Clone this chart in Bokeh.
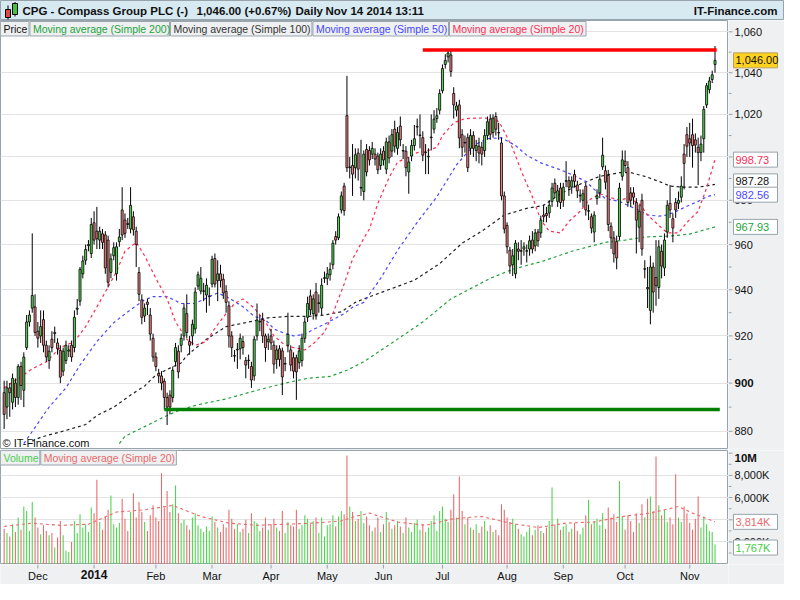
import math
from bokeh.plotting import figure
from bokeh.models import Range1d, FixedTicker, ColumnDataSource
from bokeh.layouts import column, row
from bokeh.embed import file_html
from bokeh.resources import INLINE
from bokeh.core.properties import value

FONT = "Liberation Sans"

# ---------------- data ----------------
month_labels = ["Dec", "2014", "Feb", "Mar", "Apr", "May", "Jun", "Jul", "Aug", "Sep", "Oct", "Nov"]
month_start_idx = [12, 32, 54, 74, 95, 115, 135, 156, 179, 199, 221, 244]

opens = [896, 890, 898, 892, 900, 894, 907, 897, 915, 926,
         932, 932.5, 922, 920, 927, 916, 909.5, 918.6, 921, 917,
         913.8, 905, 909.5, 913.5, 916, 915, 931.5, 935, 947, 953,
         959.5, 956, 969.8, 966, 962, 964.8, 964.3, 962, 947.6, 955,
         947, 961.3, 975.6, 971, 969.5, 967, 972.5, 966, 947.6, 935.6,
         928.6, 934.6, 929, 919, 911, 904, 903, 900.8, 894, 895,
         894, 909, 913.5, 916, 920, 929.6, 917.6, 920, 923, 941.6,
         939.4, 939.3, 937.7, 937, 942.5, 953.8, 944, 947, 944.6, 939.3,
         933, 920, 911.6, 914, 914.5, 917.6, 909.5, 909.5, 907, 903,
         920, 926, 927, 920, 917.5, 920, 916, 910, 914.5, 913.6,
         908, 916, 914, 910.7, 910.7, 908.6, 909.5, 919, 928, 937.3,
         929.6, 939, 934, 932, 945, 945, 946.6, 951, 963.6, 963,
         975.6, 986.5, 1019.4, 995, 996, 995, 1001.8, 985.6, 984, 1003.5,
         1003, 1001.3, 1001.3, 1000.4, 996, 1002.7, 994.3, 1007, 1002.7, 1013,
         1004, 1014.5, 1002.7, 1002.7, 993, 1000.4, 1005.3, 1014, 1010, 1009,
         1002, 1000, 1009, 1013, 1018, 1022, 1031.3, 1044, 1047.7, 1048.6,
         1030, 1022, 1024.5, 1010.4, 1006.5, 1009, 1004, 1010, 1003, 1005,
         1004.5, 1003, 1010, 1017.8, 1011.4, 1019, 1011.4, 1006.5, 982, 968.6,
         957.5, 951, 947, 958, 957, 958, 957, 958, 962, 959.4,
         965.6, 965.2, 973.3, 974, 974.2, 979.5, 987.8, 979.5, 985.6, 980,
         988.7, 989, 986, 991.8, 987, 982, 980, 986.5, 975, 972.5,
         965.6, 980.8, 983.4, 995.4, 993.6, 991.4, 968.2, 963, 961.3, 963.6,
         991, 998, 995, 983.4, 983.4, 979, 967.8, 980, 949, 941,
         931, 950, 945.4, 941, 957, 949.6, 965.6, 978.6, 971.6, 979,
         978.6, 981.4, 1001.3, 1010.4, 1008.5, 1010.4, 1008, 1004.5, 1002, 1008.5,
         1024.5, 1031.8, 1036.7, 1044]
highs = [901, 901, 900, 904, 902, 908, 909, 913, 929, 931,
         965, 938, 926, 931, 931, 918, 916, 922, 924, 919,
         916, 915, 918, 916, 918, 931, 936, 950, 955, 960,
         962, 972, 975, 977, 968, 967, 966, 964, 956, 961,
         961, 967, 986, 974, 972, 986, 975, 968, 950, 938,
         934, 936, 932, 921, 913, 906, 905, 902, 896, 897,
         907, 917, 916, 921, 934, 938, 920, 927, 941, 948,
         950, 943, 945, 941, 955, 956, 953, 951, 947, 942,
         935, 922, 914, 917, 921, 920, 911, 912, 909, 920,
         934, 929, 930, 921, 921, 923, 918, 916, 916, 915,
         911, 930, 916, 913, 912, 916, 921, 928, 937, 940,
         938, 943, 938, 945, 948, 950, 952, 962, 966, 974,
         984, 988, 1038.5, 1000, 1006, 1004, 1004, 1008, 1003, 1006,
         1005, 1007, 1004, 1002, 1004, 1005, 1009, 1010, 1013, 1017,
         1014, 1019, 1006, 1005, 1000, 1008, 1015, 1018, 1020, 1012,
         1006, 1004, 1020, 1022, 1023, 1032, 1044, 1049, 1051.4, 1051,
         1033, 1026, 1027, 1013, 1010, 1011, 1013, 1012, 1008, 1009,
         1007, 1013, 1019, 1020, 1020, 1021, 1016, 1009, 984, 970,
         959, 958, 962, 961, 962, 961, 960, 964, 966, 967,
         967, 973, 978, 977, 980, 988, 990, 987, 988, 988,
         998, 991, 991, 994, 989, 985, 985, 988, 978, 974,
         975, 985, 992, 1009, 996, 994, 970, 966, 964, 988,
         1003, 1003, 998, 986, 986, 981, 978, 983, 953, 950,
         955, 952, 962, 962, 960, 965, 980, 987, 974, 981,
         984, 991, 1006, 1014, 1016, 1018, 1011, 1009, 1010, 1024,
         1035, 1038, 1041, 1053]
lows = [881, 885, 886, 889, 890, 891, 893, 890, 914, 924,
        930, 920, 915, 917, 913, 909, 906, 913, 917, 912,
        900, 903, 908, 911, 909, 913, 929, 933, 945, 951,
        957, 954, 960, 958, 958, 958, 947, 941, 945, 953,
        944, 959, 962, 963, 967, 965, 964, 950, 935, 925,
        926, 929, 918, 909, 905, 900, 897, 889, 882.6, 887,
        892, 907, 902, 913, 918, 919, 912, 916, 921, 940,
        938, 935, 930, 933, 941, 941, 935, 941, 936, 930,
        915, 911, 909, 906, 910, 912, 902, 906, 898, 901,
        918, 922, 917, 909, 914, 914, 904, 906, 907, 895,
        905, 913, 905, 902, 893, 906, 907, 917, 926, 929,
        927, 927, 930, 929, 943, 942, 944, 949, 960, 962,
        974, 973, 993, 990, 982, 990, 989, 982, 980, 991,
        996, 999, 996, 992, 994, 996, 992, 997, 1000, 1002,
        1001, 1005, 999, 991, 983, 998, 1003, 1010, 1004, 998,
        992, 992, 1003, 1011, 1016, 1020, 1030, 1042, 1045, 1038,
        1018, 1019, 1004, 1000, 1002, 993, 1001, 1000, 998, 997,
        996, 1000, 1008, 1008, 1009, 1010, 1008, 980, 965, 956,
        947, 946, 945, 953, 951, 955, 952, 955, 956, 957,
        959, 963, 970, 970, 972, 977, 981, 977, 976, 977,
        986, 982, 983, 986, 981, 979, 977, 973, 971, 965,
        961, 978, 981, 994, 985, 966, 958, 952, 949, 962,
        989, 993, 977, 977, 978, 956, 961, 955, 945, 932,
        925, 930, 933, 936, 945, 946, 963, 972, 961, 972,
        976, 979, 985, 1000, 1000, 995, 1002, 987, 998, 1002,
        1023, 1030, 1035, 1040]
closes = [887, 898, 896, 902, 894, 907, 899, 911, 926, 929,
          937.5, 921.5, 919, 924, 916, 911, 913.5, 915, 921.5, 914.5,
          902.5, 913.5, 916, 914, 911, 928, 932, 949, 952.7, 957.8,
          960, 969, 962, 962.6, 966, 961, 949.6, 943.3, 953.6, 958.6,
          959, 963.4, 964.3, 965, 969, 977.7, 966.6, 960, 938, 928,
          932, 933.6, 920.8, 911, 907, 903, 900, 894, 890, 890,
          905.4, 915, 904.7, 919, 932, 921.5, 916, 925, 939, 946.6,
          945, 939.5, 942, 937.3, 953.4, 942.5, 947, 944, 938.6, 934.5,
          920, 915, 911.4, 914.3, 919, 915, 907.6, 909.7, 901.3, 918.6,
          926.8, 926.3, 920, 915, 918.6, 917, 908, 914, 910, 902.6,
          908.3, 920.7, 907.6, 905, 904.7, 913.6, 919, 926, 934, 931.3,
          936, 929, 934.3, 942, 945.3, 947, 949, 960.6, 962, 972.5,
          982, 975.3, 995, 995.3, 992, 1001, 994.3, 985.9, 1001.3, 993,
          998.6, 1004, 999, 994, 1001.3, 998.6, 1007, 999.5, 1010.4, 1005,
          1011.4, 1008, 1003, 995, 997.6, 1005.3, 1008.5, 1014.3, 1010.3, 1000.8,
          1002.3, 1000.3, 1009.3, 1017.8, 1019.4, 1030, 1042, 1046, 1049.6, 1040.6,
          1024.5, 1024, 1008.9, 1004.5, 1006.8, 995, 1010, 1004, 1005.3, 1001.8,
          1001.3, 1010, 1016.5, 1010.6, 1018.2, 1013, 1011.2, 982, 967, 959,
          950.4, 955, 960.6, 957, 957.3, 959, 957.3, 961.7, 958, 965.2,
          961.7, 971, 972.5, 973, 977.7, 985.6, 983.4, 984.3, 979, 986,
          989, 986, 989, 988.7, 984.3, 982.3, 983, 975.6, 975.3, 967.4,
          973.3, 982, 989.6, 1000.8, 988.3, 969, 963, 955.8, 954, 985.6,
          998.6, 996, 979, 980, 981.4, 971, 975, 958, 949.3, 940.4,
          950, 939, 941.8, 959, 950.4, 962, 977.7, 975.6, 967.4, 975.6,
          980, 986.5, 997, 1005, 1006.5, 1005.3, 1005.5, 1002, 1006, 1022.4,
          1033.7, 1036, 1039, 1046]
volumes_k = [3200, 2800, 2500, 3600, 2900, 4200, 3100, 5200, 4800, 3000,
             5600, 4200, 3300, 2700, 3500, 3000, 2600, 2800, 1500, 2400,
             3900, 2600, 1200, 1100, 2000, 3900, 2800, 4500, 3300, 3600,
             2900, 5100, 4600, 7600, 3800, 3100, 4300, 4900, 6200, 3600,
             3300, 3700, 5900, 4100, 3000, 4700, 6400, 4200, 5600, 4700,
             3800, 3000, 4400, 5300, 4200, 3900, 8200, 5100, 6600, 4700,
             5400, 7100, 4600, 3700, 4000, 3500, 3100, 4200, 4600, 3500,
             3200, 2900, 3400, 3000, 4300, 3800, 3300, 2900, 3600, 3300,
             4900, 4100, 3200, 3600, 2900, 3200, 4000, 2800, 4600, 3900,
             3700, 3000, 3300, 4200, 3100, 3600, 4100, 3300, 3000, 4800,
             2800, 3800, 3500, 3400, 4900, 3200, 3500, 4400, 4100, 3600,
             3900, 4200, 2800, 4200, 2500, 3500, 3600, 4400, 3400, 4300,
             4800, 4500, 9800, 5200, 4700, 3900, 4100, 4800, 3700, 4300,
             3500, 3000, 3300, 4200, 2900, 3600, 4700, 3800, 3200, 3500,
             3900, 3400, 2800, 4200, 3300, 2900, 3700, 4000, 3100, 3600,
             2900, 3300, 3900, 4400, 3000, 4800, 5200, 4100, 3800, 4900,
             6300, 4200, 7900, 4800, 3600, 4200, 3300, 3100, 3600, 2800,
             3400, 3900, 3000, 3500, 2900, 3100, 2600, 5400, 4900, 4200,
             3800, 4100, 3600, 3200, 2700, 2500, 2900, 3300, 2600, 3100,
             3500, 3000, 2800, 3300, 3900, 6900, 3600, 4100, 3100, 3400,
             3600, 2900, 3200, 3700, 3000, 2700, 3300, 4400, 5800, 3600,
             3900, 4100, 3500, 4600, 3200, 5100, 4200, 4500, 3800, 7500,
             4300, 3100, 4400, 3900, 2900, 4600, 3700, 5400, 4200, 5900,
             6100, 4800, 9700, 5300, 4400, 4900, 3800, 4200, 3600, 8100,
             4200, 3800, 5200, 4600, 3700, 3100, 4100, 6100, 3300, 4300,
             3600, 3000, 2900, 1767]

ma20_idx = [0, 10, 15, 20, 25, 29, 36, 40, 43, 47, 50, 54, 58, 61, 65, 68, 72, 75, 79, 82,
            85, 89, 93, 96, 100, 103, 107, 110, 114, 117, 121, 124, 128, 130, 133, 137, 140, 144, 147, 151,
            154, 156, 160, 164, 170, 175, 177, 181, 184, 188, 191, 194, 198, 201, 205, 208, 212, 215, 219, 222,
            226, 229, 233, 236, 240, 243, 247, 250, 253]
ma20_val = [898, 906, 909, 915, 917.6, 924, 939, 948, 957, 961, 955, 945, 936, 926, 918.6, 916, 917.6, 923.3, 929.6, 934,
            936, 932, 926, 920, 916, 915, 914, 916.6, 921.6, 929.6, 942.5, 953.5, 962.8, 967, 978.6, 990.4, 997.6, 1000, 1002, 1003,
            1004.5, 1010, 1016, 1018, 1018.3, 1018, 1014.5, 1004, 993.6, 981.6, 971, 966, 965.2, 970.4, 975, 980, 983, 981.6, 980, 981,
            978.6, 973.3, 968.6, 965.2, 965.2, 970, 975, 985.6, 998.73]
ma50_idx = [7, 16, 22, 27, 33, 39, 45, 50, 53, 58, 63, 68, 73, 76, 80, 85, 89, 93, 96, 100,
            103, 107, 110, 114, 117, 121, 124, 128, 134, 140, 147, 154, 161, 167, 172, 177, 182, 186, 191, 198,
            202, 207, 211, 214, 219, 222, 226, 229, 233, 236, 240, 243, 247, 250, 253]
ma50_val = [875, 890, 898, 907.6, 917.6, 925.7, 931.3, 935.6, 937, 937, 934, 934, 937, 938.6, 936.4, 932.6, 928.4, 927, 923, 921,
            920, 920.7, 922.8, 925, 927, 929.6, 932.4, 934.5, 945, 957.4, 970, 981.6, 996.3, 1005.3, 1008.5, 1009, 1005.3, 1000.8, 997.2, 994,
            991.8, 988.7, 983.8, 980.8, 979.5, 977.7, 975.4, 973.3, 972.8, 973.3, 975.4, 977.3, 979.5, 981.6, 982.56]
ma100_idx = [10, 13, 22, 29, 33, 39, 45, 50, 54, 59, 63, 65, 72, 79, 86, 94, 101, 108, 114, 120,
             125, 128, 146, 155, 163, 170, 178, 186, 192, 198, 205, 212, 219, 223, 228, 233, 237, 242, 247, 253]
ma100_val = [876, 877.6, 880.4, 882.8, 886.5, 890, 895, 898.8, 903.4, 906.3, 908.5, 911.6, 918.6, 924, 925.7, 927.8, 928.4, 928.4, 929, 930.4,
             934.5, 936, 944.2, 951.5, 960.6, 966, 973.3, 976.3, 977.7, 983, 987.4, 991, 992.7, 992.7, 991, 988.7, 986.5, 986, 986, 987.28]
ma200_idx = [41, 43, 51, 57, 63, 69, 79, 90, 100, 108, 116, 122, 128, 138, 149, 159, 173, 181, 192, 202,
             214, 221, 228, 237, 244, 253]
ma200_val = [875, 878, 882.5, 886, 889, 891, 893.4, 897, 900, 902, 902.8, 905.4, 909, 917, 926, 936, 945, 949, 952.7, 957,
             961, 962, 963.4, 963.8, 964.7, 967.93]
vol_ma20_idx = [0, 10, 20, 30, 40, 50, 60, 70, 80, 90, 100, 110, 120, 125, 130, 140, 150, 160, 170, 180,
                190, 200, 210, 220, 230, 240, 245, 253]
vol_ma20_k = [3400, 3700, 3500, 3600, 4700, 4900, 5300, 4300, 3700, 3500, 3600, 3700, 3900, 4300, 4600, 3800, 3500, 4100, 4300, 3700,
              3300, 3700, 3800, 4300, 4600, 5200, 4600, 3814]

price_ticks = [880, 900, 920, 940, 960, 980, 1000, 1020, 1040, 1060]
price_bold_tick = 900
price_minor = [870, 890, 910, 930, 950, 970, 990, 1010, 1030, 1050]
vol_ticks_k = [2000, 4000, 6000, 8000]
vol_top_tick_k = 10000
vol_minor_k = [1000, 3000, 5000, 7000, 9000]

resistance_level, resistance_from, resistance_to = 1051, 149, 253.6
support_level, support_from, support_to = 889, 57, 254.7

last_price = 1046.00
last_change_pct = 0.67
ma_last = {"ma20": 998.73, "ma100": 987.28, "ma50": 982.56, "ma200": 967.93}
last_vol_k = 1767
last_vol_ma_k = 3814

# ---------------- geometry / style ----------------
AXW = 56
FW = 784 - AXW
PH = 428
VH = 114
XH = 20
X_LO, X_HI = -1.3, 257.8
P_TOP, P_BOT = 1065.6, 873.0
V_TOP, V_BOT = 10245, -30
LNR = math.log(P_TOP) - math.log(P_BOT)

UP, DOWN = "#55d655", "#f08080"
VUP, VDOWN = "#4fd34f", "#e86a6a"
GRID = "#e3e3e3"
EDGE = "#98a4ac"
PANEL = "#eef0f2"
C20, C50, C100, C200 = "#ff2d55", "#4a4aff", "#222222", "#22a03a"


def fx(px):
    return X_LO + px * (X_HI - X_LO) / FW


def fp(py):
    return math.exp(math.log(P_TOP) - py / PH * LNR)


def pyp(price):
    return PH * (math.log(P_TOP) - math.log(price)) / LNR


def fv(py):
    return V_TOP - py / VH * (V_TOP - V_BOT)


def pyv(v):
    return (V_TOP - v) / (V_TOP - V_BOT) * VH


def rx(x):  # reference x -> my frame px
    return (x - 1) * FW / 741


def rpy(y):
    return (y - 20) * PH / 442


def rvy(y):
    return (y - 465) * VH / 113


def bare(fig, bg):
    fig.grid.visible = False
    fig.background_fill_color = bg
    fig.border_fill_color = bg
    fig.outline_line_color = None
    return fig


xr = Range1d(X_LO, X_HI)

# ---------------- header ----------------
hdr = figure(frame_width=784, frame_height=20, x_range=Range1d(0, 784), y_range=Range1d(20, 0),
             toolbar_location=None, output_backend="svg", min_border=0,
             x_axis_location=None, y_axis_location=None)
bare(hdr, "#d7e9f1")
hdr.outline_line_color = EDGE
hdr.segment(x0=[7.5, 14.5], y0=[5, 1.5], x1=[7.5, 14.5], y1=[19, 16], line_color="black", line_width=1)
hdr.quad(left=[5, 12], right=[10, 17], top=[9, 3], bottom=[17, 14],
         fill_color=["#e04848", "#3fc53f"], line_color="black", line_width=1)


def htext(x, text, align="left"):
    hdr.text(x=[x], y=[10.5], text=[text], text_font=value(FONT), text_font_size="11.5px",
             text_font_style="bold", text_align=align, text_baseline="middle", text_color="#111111")


htext(22, "CPG - Compass Group PLC (-)")
htext(196, f"{last_price:,.2f} (+{last_change_pct:.2f}%)")
htext(295, "Daily")
htext(325, "Nov 14 2014 13:11")
htext(777, "IT-Finance.com", align="right")

# ---------------- price panel ----------------
pf = figure(frame_width=FW, frame_height=PH, x_range=xr, y_range=Range1d(P_BOT, P_TOP),
            y_axis_type="log", y_axis_location=None, x_axis_location=None,
            toolbar_location=None, output_backend="svg",
            min_border_left=0, min_border_top=0, min_border_bottom=2, min_border_right=0)
pf.background_fill_color = "white"
pf.border_fill_color = PANEL
pf.outline_line_color = EDGE
pf.xgrid.visible = False
pf.ygrid.ticker = FixedTicker(ticks=price_ticks)
pf.ygrid.grid_line_color = GRID

idx = list(range(len(closes)))
src = ColumnDataSource(dict(x=idx, o=opens, h=highs, l=lows, c=closes,
                            top=[max(o, c) for o, c in zip(opens, closes)],
                            bot=[min(o, c) for o, c in zip(opens, closes)],
                            col=[UP if c >= o else DOWN for o, c in zip(opens, closes)],
                            vcol=[VUP if c >= o else VDOWN for o, c in zip(opens, closes)],
                            v=volumes_k))

pf.line(ma200_idx, ma200_val, line_color=C200, line_width=1.2, line_dash="3 3")
pf.line(ma100_idx, ma100_val, line_color=C100, line_width=1.2, line_dash="3 3")
pf.line(ma50_idx, ma50_val, line_color=C50, line_width=1.2, line_dash="3 3")
pf.line(ma20_idx, ma20_val, line_color=C20, line_width=1.2, line_dash="3 3")

pf.segment(x0="x", y0="l", x1="x", y1="h", source=src, line_color="black", line_width=1)
pf.vbar(x="x", width=0.72, top="top", bottom="bot", source=src, fill_color="col",
        line_color="black", line_width=0.8)

pf.line([resistance_from, resistance_to], [resistance_level, resistance_level], line_color="#ff0000", line_width=3.5)
pf.line([support_from, support_to], [support_level, support_level], line_color="#008000", line_width=3.5)

legend_boxes = [(1, 30, "Price", "#111111"),
                (31, 173, "Moving average (Simple 200)", "#23a33b"),
                (174, 318, "Moving average (Simple 100)", "#333333"),
                (319, 457, "Moving average (Simple 50)", "#4646ff"),
                (458, 597, "Moving average (Simple 20)", C20)]
for l, r, txt, colr in legend_boxes:
    pf.quad(left=[fx(rx(l))], right=[fx(rx(r))], top=[fp(rpy(21))], bottom=[fp(rpy(36))],
            fill_color=PANEL, line_color=EDGE, line_width=1)
    pf.text(x=[fx(rx(l) + 3)], y=[fp(rpy(28.5))], text=[txt], text_font=value(FONT),
            text_font_size="10.5px", text_align="left", text_baseline="middle", text_color=colr)

pf.text(x=[fx(2)], y=[fp(rpy(456))], text=["\u00a9 IT-Finance.com"], text_font=value(FONT),
        text_font_size="11px", text_align="left", text_baseline="middle", text_color="#111111")

# ---------------- price axis column ----------------
pax = figure(frame_width=AXW, frame_height=PH, x_range=Range1d(0, AXW), y_range=pf.y_range,
             y_axis_type="log", x_axis_location=None, y_axis_location=None,
             toolbar_location=None, output_backend="svg",
             min_border_left=0, min_border_top=0, min_border_bottom=2, min_border_right=0)
bare(pax, PANEL)
pax.segment(x0=[0] * len(price_ticks), y0=price_ticks, x1=[4] * len(price_ticks), y1=price_ticks,
            line_color=EDGE, line_width=1)
pax.segment(x0=[0] * len(price_minor), y0=price_minor, x1=[3] * len(price_minor), y1=price_minor,
            line_color=EDGE, line_width=1)
norm_ticks = [t for t in price_ticks if t != price_bold_tick]
pax.text(x=[6] * len(norm_ticks), y=norm_ticks, text=[f"{t:,}" for t in norm_ticks],
         text_font=value(FONT), text_font_size="11px", text_align="left", text_baseline="middle",
         text_color="#111111")
pax.text(x=[6], y=[price_bold_tick], text=[f"{price_bold_tick:,}"], text_font=value(FONT),
         text_font_size="11.5px", text_font_style="bold", text_align="left", text_baseline="middle",
         text_color="#111111")


def pbox(yc, txt, colr, bg="white", border=EDGE):
    pax.quad(left=[5], right=[49], top=[fp(yc - 7.5)], bottom=[fp(yc + 7.5)],
             fill_color=bg, line_color=border, line_width=1)
    pax.text(x=[7], y=[fp(yc)], text=[txt], text_font=value(FONT), text_font_size="11px",
             text_align="left", text_baseline="middle", text_color=colr)


pbox(pyp(ma_last["ma200"]), f"{ma_last['ma200']:.2f}", "#23a33b")
pbox(pyp(ma_last["ma100"]) - 3, f"{ma_last['ma100']:.2f}", "#111111")
pbox(pyp(ma_last["ma50"]), f"{ma_last['ma50']:.2f}", C50)
pbox(pyp(ma_last["ma20"]), f"{ma_last['ma20']:.2f}", C20)
pbox(pyp(last_price), f"{last_price:,.2f}", "#111111", bg="#ffd21f", border="#b8a060")

# ---------------- volume panel ----------------
vf = figure(frame_width=FW, frame_height=VH, x_range=xr, y_range=Range1d(V_BOT, V_TOP),
            y_axis_location=None, x_axis_location=None, toolbar_location=None, output_backend="svg",
            min_border=0)
vf.background_fill_color = "white"
vf.border_fill_color = PANEL
vf.outline_line_color = EDGE
vf.xgrid.visible = False
vf.ygrid.ticker = FixedTicker(ticks=vol_ticks_k)
vf.ygrid.grid_line_color = GRID

vf.vbar(x="x", width=0.38, top="v", bottom=0, source=src, fill_color="vcol", line_color=None)
vf.line(vol_ma20_idx, vol_ma20_k, line_color=VDOWN, line_width=1.1, line_dash="3 3")

for l, r, txt, colr in [(1, 41, "Volume", "#4ccc4c"), (42, 180, "Moving average (Simple 20)", VDOWN)]:
    vf.quad(left=[fx(rx(l))], right=[fx(rx(r))], top=[fv(0)], bottom=[fv(14.5)],
            fill_color=PANEL, line_color=EDGE, line_width=1)
    vf.text(x=[fx(rx(l) + 3)], y=[fv(7.3)], text=[txt], text_font=value(FONT),
            text_font_size="10.5px", text_align="left", text_baseline="middle", text_color=colr)

# ---------------- volume axis column ----------------
vax = figure(frame_width=AXW, frame_height=VH, x_range=Range1d(0, AXW), y_range=vf.y_range,
             x_axis_location=None, y_axis_location=None, toolbar_location=None,
             output_backend="svg", min_border=0)
bare(vax, PANEL)
all_vt = vol_ticks_k + [vol_top_tick_k]
vax.segment(x0=[0] * len(all_vt), y0=all_vt, x1=[4] * len(all_vt), y1=all_vt, line_color=EDGE, line_width=1)
vax.segment(x0=[0] * len(vol_minor_k), y0=vol_minor_k, x1=[3] * len(vol_minor_k), y1=vol_minor_k,
            line_color=EDGE, line_width=1)
vax.text(x=[6] * len(vol_ticks_k), y=vol_ticks_k, text=[f"{t:,}K" for t in vol_ticks_k],
         text_font=value(FONT), text_font_size="11px", text_align="left", text_baseline="middle",
         text_color="#111111")
vax.text(x=[6], y=[fv(rvy(472))], text=[f"{vol_top_tick_k // 1000}M"], text_font=value(FONT),
         text_font_size="11.5px", text_font_style="bold", text_align="left", text_baseline="middle",
         text_color="#111111")


def vbox(yc, txt, colr):
    vax.quad(left=[5], right=[49], top=[fv(yc - 7.5)], bottom=[fv(yc + 7.5)],
             fill_color="white", line_color=EDGE, line_width=1)
    vax.text(x=[7], y=[fv(yc)], text=[txt], text_font=value(FONT), text_font_size="11px",
             text_align="left", text_baseline="middle", text_color=colr)


vbox(pyv(last_vol_ma_k), f"{last_vol_ma_k:,}K", VDOWN)
vbox(pyv(last_vol_k) + 3, f"{last_vol_k:,}K", "#3fcc3f")

# ---------------- x axis strip ----------------
xs = figure(frame_width=FW, frame_height=XH, x_range=xr, y_range=Range1d(XH, 0),
            x_axis_location=None, y_axis_location=None, toolbar_location=None,
            output_backend="svg", min_border=0)
bare(xs, PANEL)
xs.segment(x0=month_start_idx, y0=[0] * len(month_start_idx), x1=month_start_idx,
           y1=[4] * len(month_start_idx), line_color=EDGE, line_width=1)
plain = [(m, lab) for m, lab in zip(month_start_idx, month_labels) if not lab.isdigit()]
years = [(m, lab) for m, lab in zip(month_start_idx, month_labels) if lab.isdigit()]
xs.text(x=[m for m, _ in plain], y=[5.5] * len(plain), text=[lab for _, lab in plain],
        text_font=value(FONT), text_font_size="11px", text_align="center", text_baseline="top",
        text_color="#111111")
xs.text(x=[m for m, _ in years], y=[5] * len(years), text=[lab for _, lab in years],
        text_font=value(FONT), text_font_size="12px", text_font_style="bold", text_align="center",
        text_baseline="top", text_color="#111111")

corner = figure(frame_width=AXW, frame_height=XH, x_range=Range1d(0, 1), y_range=Range1d(0, 1),
                x_axis_location=None, y_axis_location=None, toolbar_location=None,
                output_backend="svg", min_border=0)
bare(corner, PANEL)
corner.line([0, 1], [0.5, 0.5], line_alpha=0)

layout = column(hdr, row(pf, pax, spacing=0), row(vf, vax, spacing=0), row(xs, corner, spacing=0), spacing=0)
open("out.html", "w").write(file_html(layout, INLINE))
